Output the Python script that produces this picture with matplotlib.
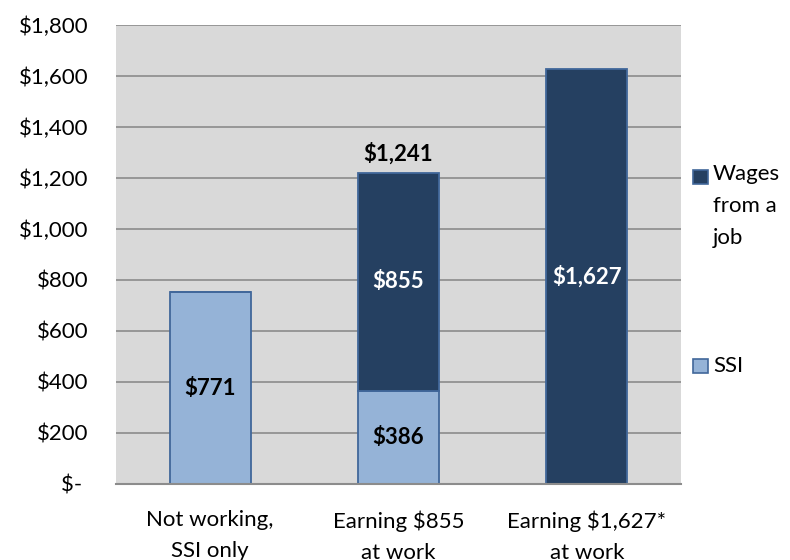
import matplotlib
matplotlib.use("Agg")
import matplotlib.pyplot as plt
from matplotlib.patches import Rectangle
import numpy as np

categories = ["Not working,\nSSI only", "Earning $855\nat work", "Earning $1,627*\nat work"]
ssi = [750, 365, 0]
wages = [0, 855, 1627]
ssi_labels = ["$771", "$386", ""]
wage_labels = ["", "$855", "$1,627"]
total_labels = ["", "$1,241", ""]
yticks = [0, 200, 400, 600, 800, 1000, 1200, 1400, 1600, 1800]
ytick_labels = ["$- ", "$200", "$400", "$600", "$800", "$1,000", "$1,200", "$1,400", "$1,600", "$1,800"]
series_names = ["Wages\nfrom a\njob", "SSI"]

plt.rcParams['font.family'] = ['Lato', 'DejaVu Sans']
FS = 16

c_ssi = "#95b3d7"
c_wage = "#254061"
c_edge = "#41679a"

fig = plt.figure(figsize=(7.9, 5.6), dpi=100)
ax = fig.add_axes([116/790, 1-483.7/560, (681-116)/790, (483.7-24.7)/560])
ax.set_facecolor("#d9d9d9")

x = np.arange(len(categories))
w = 0.43
b1 = ax.bar(x, ssi, w, color=c_ssi, edgecolor=c_edge, linewidth=1.3, zorder=3)
b2 = ax.bar(x, wages, w, bottom=ssi, color=c_wage, edgecolor=c_edge, linewidth=1.3, zorder=3)

ax.set_xlim(-0.5, 2.5)
ax.set_ylim(0, 1800)
ax.set_yticks(yticks)
ax.set_yticklabels(ytick_labels, fontsize=FS)
ax.set_xticks(x)
ax.set_xticklabels(categories, fontsize=FS, linespacing=1.7)
ax.tick_params(axis='both', length=0)
ax.tick_params(axis='y', pad=20)
ax.tick_params(axis='x', pad=19)
ax.yaxis.grid(True, color="#8c8c8c", linewidth=1.2, zorder=1)
ax.set_axisbelow(True)
for s in ["top", "right", "left"]:
    ax.spines[s].set_visible(False)
ax.spines["bottom"].set_color("#8c8c8c")
ax.spines["bottom"].set_linewidth(1.5)
ax.spines["bottom"].set_zorder(4)

for i in range(len(categories)):
    if ssi_labels[i]:
        ax.text(x[i], ssi[i] / 2, ssi_labels[i], ha="center", va="center",
                fontsize=FS, fontweight="bold", color="black", zorder=5)
    if wage_labels[i]:
        ax.text(x[i], ssi[i] + wages[i] / 2, wage_labels[i], ha="center", va="center",
                fontsize=FS, fontweight="bold", color="white", zorder=5)
    if total_labels[i]:
        ax.annotate(total_labels[i], (x[i], ssi[i] + wages[i]), xytext=(0, 6),
                    textcoords="offset points", ha="center", va="bottom",
                    fontsize=FS, fontweight="bold", color="black", zorder=5)

# legend
fig.add_artist(Rectangle((693/790, 1-184/560), 15/790, 14/560, transform=fig.transFigure,
                         facecolor=c_wage, edgecolor=c_edge, linewidth=1.2))
fig.text(713/790, 1-164/560, series_names[0], ha="left", va="top", fontsize=FS,
         linespacing=1.75, transform=fig.transFigure)
fig.add_artist(Rectangle((693/790, 1-373/560), 15/790, 14/560, transform=fig.transFigure,
                         facecolor=c_ssi, edgecolor=c_edge, linewidth=1.2))
fig.text(713/790, 1-366/560, series_names[1], ha="left", va="center", fontsize=FS,
         transform=fig.transFigure)

fig.savefig("out.png", dpi=100)
